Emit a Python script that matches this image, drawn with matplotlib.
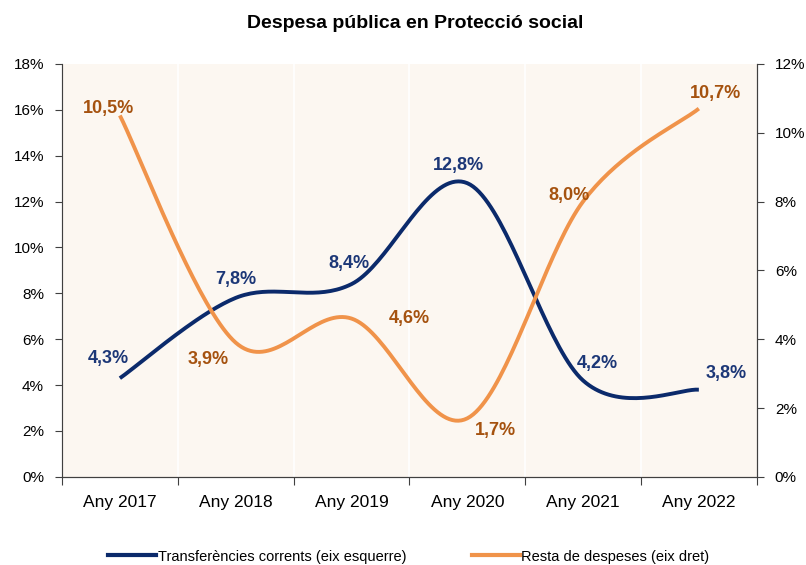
import numpy as np
import matplotlib.pyplot as plt
from matplotlib.ticker import FuncFormatter, MultipleLocator
from matplotlib.lines import Line2D

# --- data ---
years = ['Any 2017', 'Any 2018', 'Any 2019', 'Any 2020', 'Any 2021', 'Any 2022']
transferencies = [4.3, 7.8, 8.4, 12.8, 4.2, 3.8]   # left axis
resta = [10.5, 3.9, 4.6, 1.7, 8.0, 10.7]           # right axis

navy = '#0B2A6B'
orange = '#F0934A'
navy_lbl = '#1C3777'
orange_lbl = '#A5520F'
font = 'Liberation Sans'


def smooth(y, n=40):
    # Excel style smoothing: cubic bezier with Catmull-Rom control points
    x = np.arange(len(y), dtype=float)
    p = np.column_stack([x, np.asarray(y, dtype=float)])
    out = [p[0]]
    t = np.linspace(0, 1, n)[1:, None]
    for i in range(len(p) - 1):
        p0 = p[max(i - 1, 0)]
        p1, p2 = p[i], p[i + 1]
        p3 = p[min(i + 2, len(p) - 1)]
        c1 = p1 + (p2 - p0) / 6
        c2 = p2 - (p3 - p1) / 6
        seg = ((1 - t) ** 3) * p1 + 3 * ((1 - t) ** 2) * t * c1 + 3 * (1 - t) * t ** 2 * c2 + t ** 3 * p2
        out.extend(seg)
    out = np.array(out)
    return out[:, 0], out[:, 1]


fig = plt.figure(figsize=(8.06, 5.65), dpi=100)
ax = fig.add_axes([0.0769, 0.156, 0.862, 0.731])
ax2 = ax.twinx()

ax.set_facecolor('#FCF7F1')
ax.set_zorder(1)
ax2.set_zorder(2)

x = np.arange(len(years))
ax.set_xlim(-0.5, len(years) - 0.5)
ax.set_ylim(0, 18)
ax2.set_ylim(0, 12)

# white vertical separators
for b in np.arange(0.5, len(years) - 0.5):
    ax.axvline(b, color='white', lw=1.2, zorder=0)

sx, sy = smooth(transferencies)
ax2.plot(sx, np.array(sy) * 12 / 18, color=navy, lw=2.8, solid_capstyle='butt', zorder=3)
rx, ry = smooth(resta)
ax2.plot(rx, ry, color=orange, lw=2.8, solid_capstyle='butt', zorder=3)

# data labels (offsets in points)
lbl_off_t = [(-8, 14), (0, 13), (-2, 15), (-6, 13), (10, 12), (20, 12)]
lbl_off_r = [(-8, 5), (-20, -12), (42, 0), (20, -9), (-10, 4), (12, 11)]
for i, v in enumerate(transferencies):
    ax2.annotate(f'{v:.1f}%'.replace('.', ','), (x[i], v * 12 / 18), xytext=lbl_off_t[i],
                 textcoords='offset points', ha='center', va='center',
                 fontsize=13, fontweight='bold', color=navy_lbl, family=font, zorder=5)
for i, v in enumerate(resta):
    ax2.annotate(f'{v:.1f}%'.replace('.', ','), (x[i], v), xytext=lbl_off_r[i],
                 textcoords='offset points', ha='center', va='center',
                 fontsize=13, fontweight='bold', color=orange_lbl, family=font, zorder=5)

# axes styling
pct = FuncFormatter(lambda v, p: f'{v:.0f}%')
ax.yaxis.set_major_locator(MultipleLocator(2))
ax.yaxis.set_major_formatter(pct)
ax2.yaxis.set_major_locator(MultipleLocator(2))
ax2.yaxis.set_major_formatter(pct)

ax.set_xticks(x)
ax.set_xticklabels(years)
ax.set_xticks(np.arange(-0.5, len(years)), minor=True)
ax.tick_params(axis='x', which='major', length=0, pad=13, labelsize=12.5)
ax.tick_params(axis='x', which='minor', length=6, width=0.8, color='#404040')
ax.tick_params(axis='y', length=5, width=0.8, color='#404040', labelsize=11, pad=8)
ax2.tick_params(axis='y', length=5, width=0.8, color='#404040', labelsize=11, pad=8)

for lab in ax.get_xticklabels() + ax.get_yticklabels() + ax2.get_yticklabels():
    lab.set_family(font)

for a in (ax, ax2):
    a.spines['top'].set_visible(False)
    for s in ('left', 'right', 'bottom'):
        a.spines[s].set_color('#404040')
        a.spines[s].set_linewidth(0.8)
ax.spines['left'].set_color('#9A9A9A')

fig.text(0.515, 0.958, 'Despesa pública en Protecció social', ha='center', va='center',
         fontsize=14, fontweight='bold', family=font)

handles = [Line2D([], [], color=navy, lw=3), Line2D([], [], color=orange, lw=3)]
fig.legend(handles, ['Transferències corrents (eix esquerre)', 'Resta de despeses (eix dret)'],
           loc='center left', bbox_to_anchor=(0.125, 0.015), ncol=2, frameon=False,
           handlelength=3.3, handletextpad=0.1, columnspacing=4.5,
           borderpad=0, prop={'family': font, 'size': 10.5})

fig.savefig('out.png', dpi=100)
